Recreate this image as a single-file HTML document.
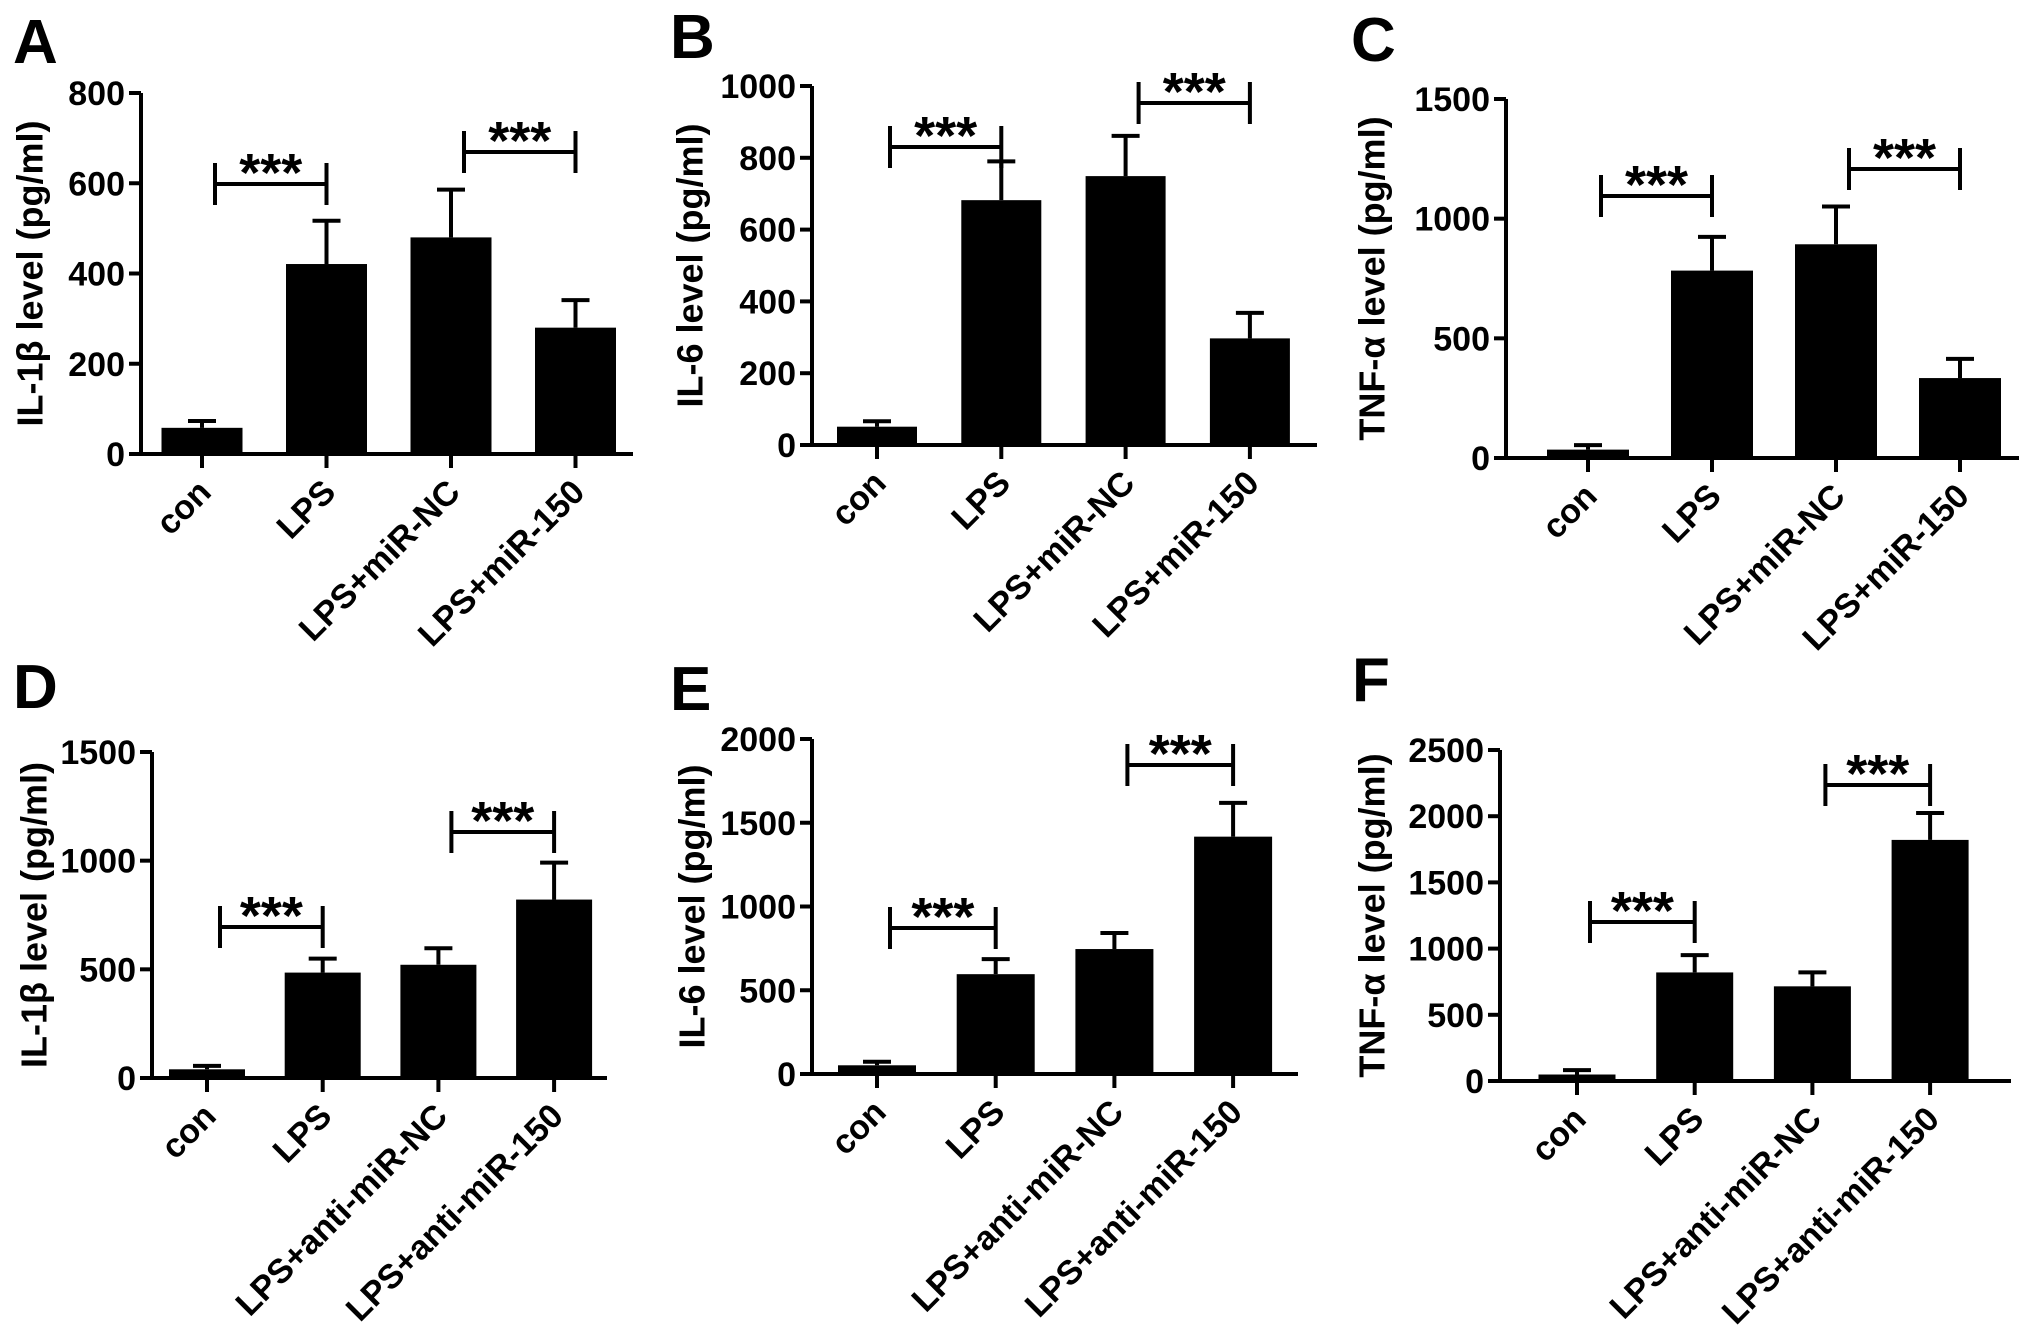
<!DOCTYPE html>
<html><head><meta charset="utf-8"><style>
html,body{margin:0;padding:0;background:#fff;}
svg{display:block;}
text{font-family:"Liberation Sans",Arial,sans-serif;font-weight:bold;fill:#000;}
</style></head><body>
<svg id="fig" width="2031" height="1341" viewBox="0 0 2031 1341" xmlns="http://www.w3.org/2000/svg"></svg>
<script>
const catsTop = ["con","LPS","LPS+miR-NC","LPS+miR-150"];
const catsBottom = ["con","LPS","LPS+anti-miR-NC","LPS+anti-miR-150"];
const valsA = [58, 421, 480, 280];
const errA = [73, 517, 586, 341];
const valsB = [51, 682, 749, 297];
const errB = [66, 790, 861, 368];
const valsC = [35, 783, 893, 334];
const errC = [54, 924, 1051, 414];
const valsD = [40, 485, 521, 821];
const errD = [56, 549, 597, 991];
const valsE = [52, 596, 746, 1417];
const errE = [73, 686, 842, 1619];
const valsF = [49, 820, 715, 1821];
const errF = [82, 951, 820, 2024];
const ticksA = [0,200,400,600,800];
const ticksB = [0,200,400,600,800,1000];
const ticksC = [0,500,1000,1500];
const ticksD = [0,500,1000,1500];
const ticksE = [0,500,1000,1500,2000];
const ticksF = [0,500,1000,1500,2000,2500];
const NS = "http://www.w3.org/2000/svg";
const svg = document.getElementById("fig");
function mk(tag, attrs, parent){
  const e = document.createElementNS(NS, tag);
  for (const k in attrs) e.setAttribute(k, attrs[k]);
  (parent||svg).appendChild(e);
  return e;
}
const panels = [
 {id:"a",letter:"A",lx:13,ly:63,ax:141,yt:93,y0:454,max:800,c0:202,dc:124.5,bw:81,xr:633,title:"IL-1β level (pg/ml)",tx:30,cats:catsTop,vals:valsA,err:errA,ticks:ticksA,br:[[0,1,184],[2,3,152]]},
 {id:"b",letter:"B",lx:670,ly:58,ax:812,yt:86,y0:445,max:1000,c0:877,dc:124.3,bw:80,xr:1317,title:"IL-6 level (pg/ml)",tx:690,cats:catsTop,vals:valsB,err:errB,ticks:ticksB,br:[[0,1,147],[2,3,103]]},
 {id:"c",letter:"C",lx:1351,ly:61,ax:1506,yt:99,y0:458,max:1500,c0:1588,dc:124,bw:82,xr:2019,title:"TNF-α level (pg/ml)",tx:1372,cats:catsTop,vals:valsC,err:errC,ticks:ticksC,br:[[0,1,196],[2,3,169]]},
 {id:"d",letter:"D",lx:13,ly:708,ax:152,yt:752,y0:1078,max:1500,c0:207,dc:115.7,bw:76,xr:607,title:"IL-1β level (pg/ml)",tx:34,cats:catsBottom,vals:valsD,err:errD,ticks:ticksD,br:[[0,1,927],[2,3,832]]},
 {id:"e",letter:"E",lx:670,ly:710,ax:812,yt:739,y0:1074,max:2000,c0:877,dc:118.7,bw:78,xr:1298,title:"IL-6 level (pg/ml)",tx:692,cats:catsBottom,vals:valsE,err:errE,ticks:ticksE,br:[[0,1,928],[2,3,765]]},
 {id:"f",letter:"F",lx:1352,ly:701,ax:1500,yt:750,y0:1081,max:2500,c0:1577,dc:117.7,bw:77,xr:2011,title:"TNF-α level (pg/ml)",tx:1372,cats:catsBottom,vals:valsF,err:errF,ticks:ticksF,br:[[0,1,922],[2,3,785]]}
];
panels.forEach(p=>{
  const g = mk("g",{});
  
  
  const yS = v => p.y0 - (v/p.max)*(p.y0-p.yt);
  const xS = i => p.c0 + i*p.dc;
  const L = mk("text",{x:p.lx,y:p.ly,"font-size":62},g);
  L.textContent = p.letter;
  
  
  p.vals.forEach((v,i)=>{
    const cx = xS(i);
    const eb = mk("path",{d:`M${cx},${yS(v)}V${yS(p.err[i])}M${cx-14},${yS(p.err[i])}H${cx+14}`,stroke:"#000","stroke-width":4,fill:"none"},g);
    
    
    const r = mk("rect",{x:cx-p.bw/2,y:yS(v),width:p.bw,height:p.y0-yS(v),fill:"#000"},g);
    
    
    const t = mk("path",{d:`M${cx},${p.y0}V${p.y0+14}`,stroke:"#000","stroke-width":4},g);
    
    
    const lx = cx+11, ly = p.y0+40;
    const lab = mk("text",{x:lx,y:ly,"font-size":34,"text-anchor":"end",transform:`rotate(-45 ${lx} ${ly})`},g);
    lab.textContent = p.cats[i];
    
    
  });
  const ax = mk("path",{d:`M${p.ax},${p.yt}V${p.y0}M${p.ax-12},${p.y0}H${p.xr}`,stroke:"#000","stroke-width":4,fill:"none"},g);
  
  
  p.ticks.forEach(tv=>{
    const y = yS(tv);
    const tk = mk("path",{d:`M${p.ax-12},${y}H${p.ax}`,stroke:"#000","stroke-width":4},g);
    
    
    const tl = mk("text",{x:p.ax-16,y:y+12,"font-size":34,"text-anchor":"end"},g);
    tl.textContent = tv;
    
    
  });
  const cy = (p.yt+p.y0)/2;
  const yt = mk("text",{x:p.tx,y:cy,"font-size":36,"text-anchor":"middle","dominant-baseline":"central",transform:`rotate(-90 ${p.tx} ${cy})`},g);
  yt.textContent = p.title;
  
  
  p.br.forEach((b,k)=>{
    const x1 = xS(b[0])+13, x2 = xS(b[1]);
    const y = b[2];
    const bp = mk("path",{d:`M${x1},${y-21}V${y+21}M${x1},${y}H${x2}M${x2},${y-21}V${y+21}`,stroke:"#000","stroke-width":4,fill:"none"},g);
    
    
    const st = mk("text",{x:(x1+x2)/2,y:y+7,"font-size":54,"text-anchor":"middle"},g);
    st.textContent = "***";
    
    
  });
});
</script>
</body></html>
